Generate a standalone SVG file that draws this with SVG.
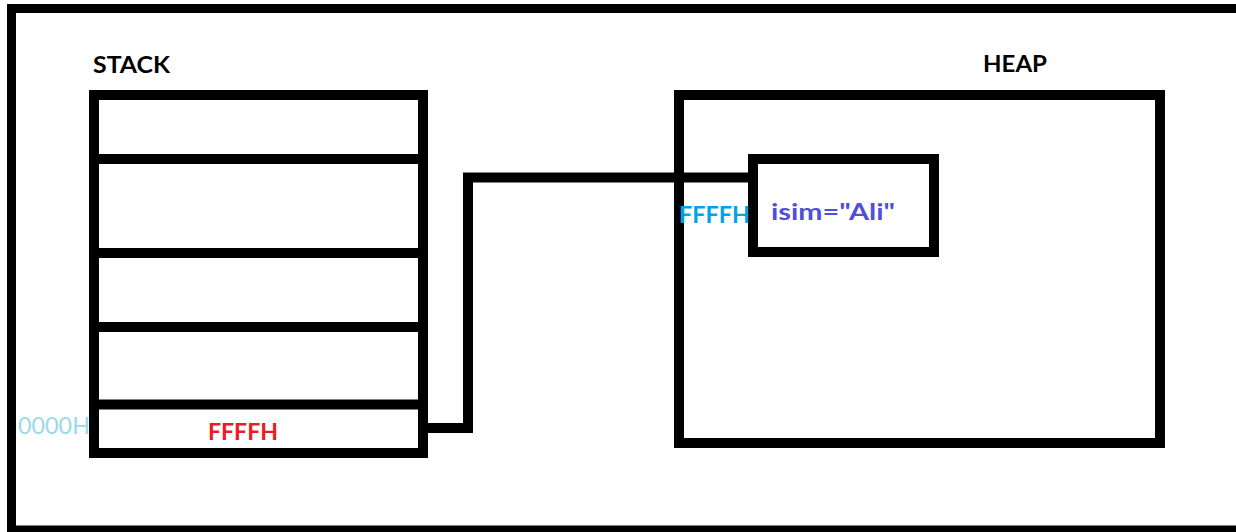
<svg xmlns="http://www.w3.org/2000/svg" width="1236" height="532" viewBox="0 0 1236 532">
<style>
.box{fill:none;stroke:#000;stroke-width:10}
.lbl{font-family:Lato,"Liberation Sans",Arial,sans-serif;font-weight:bold;font-size:23px}
</style>
<rect x="0" y="0" width="1236" height="532" fill="#fff"/>
<g id="frame">
<rect x="11.5" y="8.5" width="1240" height="521.5" fill="none" stroke="#000" stroke-width="9"/>
</g>
<g id="stack">
<text class="lbl" x="93" y="73" fill="#000" textLength="77" lengthAdjust="spacingAndGlyphs">STACK</text>
<rect class="box" x="94" y="95" width="329" height="358"/>
<line x1="94" y1="159" x2="423" y2="159" stroke="#000" stroke-width="10"/>
<line x1="94" y1="253" x2="423" y2="253" stroke="#000" stroke-width="10"/>
<line x1="94" y1="327" x2="423" y2="327" stroke="#000" stroke-width="10"/>
<line x1="94" y1="404.5" x2="423" y2="404.5" stroke="#000" stroke-width="10"/>
<text class="lbl" x="208" y="440" fill="#ED1C24" textLength="70" lengthAdjust="spacingAndGlyphs">FFFFH</text>
<text x="18" y="434" font-family="Lato,Liberation Sans,Arial,sans-serif" font-size="24px" fill="#99D9EA" textLength="72" lengthAdjust="spacingAndGlyphs">0000H</text>
</g>
<g id="heap">
<text class="lbl" x="983" y="72" fill="#000" textLength="64" lengthAdjust="spacingAndGlyphs">HEAP</text>
<rect class="box" x="679" y="95" width="481" height="348"/>
</g>
<g id="connectors">
<polyline points="423,428 468,428 468,177.5 753,177.5" fill="none" stroke="#000" stroke-width="10" stroke-linejoin="miter"/>
</g>
<g id="object">
<rect class="box" x="753" y="159" width="181" height="93" fill="#fff"/>
<text class="lbl" x="679" y="223" fill="#00A2E8" textLength="71" lengthAdjust="spacingAndGlyphs">FFFFH</text>
<text class="lbl" x="771" y="220" fill="#4F4FD8" textLength="124" lengthAdjust="spacingAndGlyphs">isim="Ali"</text>
</g>
</svg>
